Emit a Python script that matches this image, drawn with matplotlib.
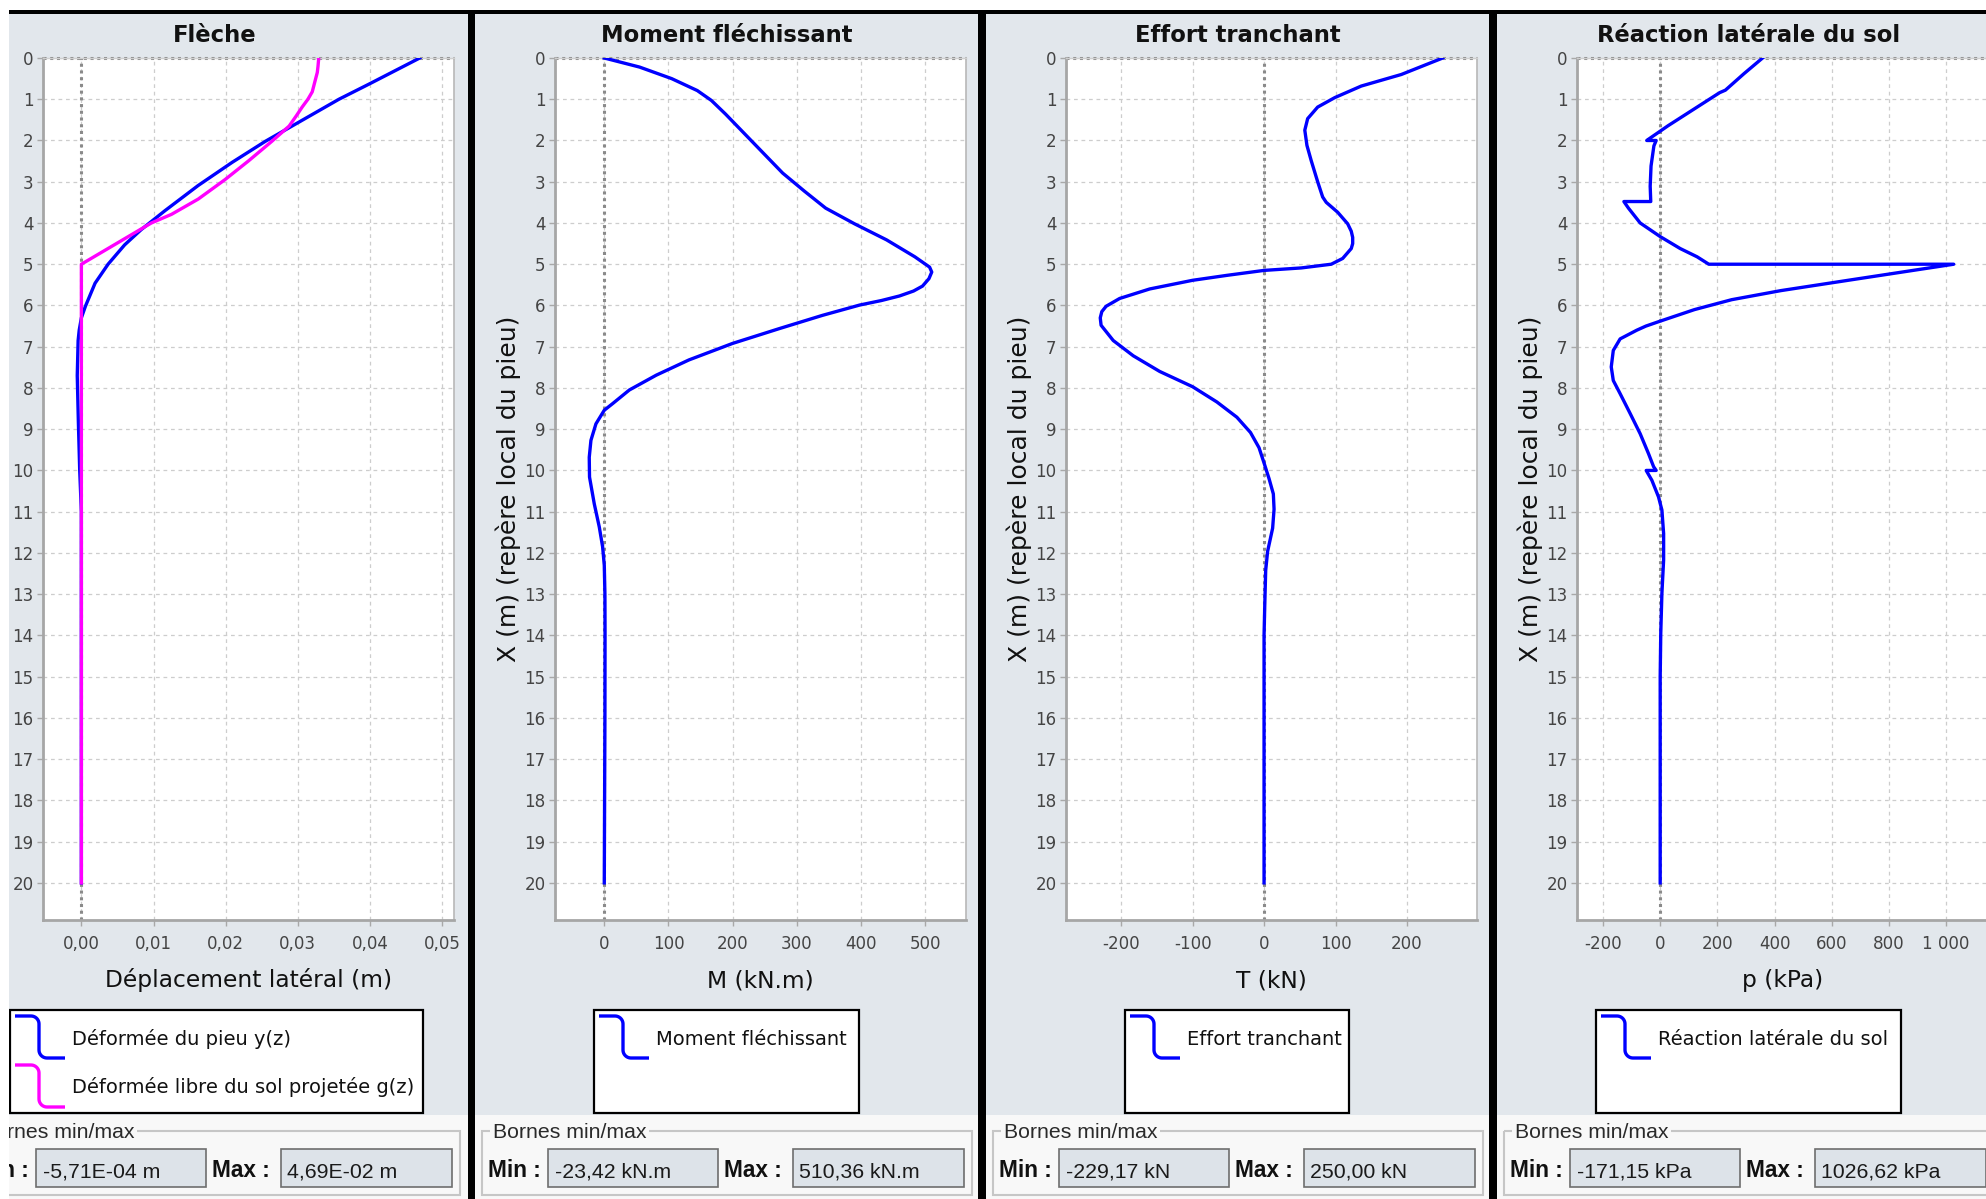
import numpy as np
import matplotlib
matplotlib.use("Agg")
import matplotlib.pyplot as plt
from matplotlib import font_manager
from matplotlib.patches import Rectangle

# ---------------------------------------------------------------------------
# Profiles along the pile (depth z in m, positive downwards)
# ---------------------------------------------------------------------------
pile_z = [0.0, 0.63, 1.0, 1.65, 2.02, 2.53, 3.09, 3.70, 4.16, 4.53, 5.0, 5.46,
          6.02, 6.3, 6.6, 6.85, 7.7, 8.8, 10.0, 11.0, 20.0]
pile_y = [0.0469, 0.0399, 0.0357, 0.0292, 0.0255, 0.0209, 0.0162, 0.0116, 0.0083,
          0.0060, 0.0037, 0.0019, 0.00056, 0.0, -0.0003, -0.00045, -0.000571,
          -0.00042, -0.00023, 0.0, 0.0]

soil_z = [0.0, 0.2, 0.35, 0.55, 0.82, 1.0, 1.19, 1.4, 1.65, 2.02, 2.49, 2.95, 3.42,
          3.79, 4.0, 5.0, 20.0]
soil_g = [0.0329, 0.0328, 0.0327, 0.0324, 0.0320, 0.0314, 0.0306, 0.0298, 0.0288,
          0.0264, 0.0232, 0.0199, 0.0162, 0.0125, 0.0097, 0.0, 0.0]

moment_z = [0.0, 0.22, 0.5, 0.79, 1.03, 1.36, 1.81, 2.26, 2.79, 3.23, 3.64, 4.02,
            4.41, 4.82, 5.07, 5.19, 5.35, 5.53, 5.65, 5.77, 5.88, 5.99, 6.24, 6.56,
            6.92, 7.32, 7.69, 8.05, 8.38, 8.54, 8.87, 9.27, 9.68, 10.16, 10.81,
            11.37, 11.85, 12.3, 13.0, 14.0, 16.0, 18.0, 20.0]
moment_m = [0.0, 55, 105, 145, 167, 189, 217, 245, 278, 312, 345, 390, 440, 484,
            507, 510.36, 506, 496, 482, 460, 432, 398, 340, 273, 200, 132, 81, 39,
            13, 0, -13, -20.8, -23.42, -23, -15.6, -7.8, -2.6, 0, 1, 1.2, 1, 0.5, 0]

shear_z = [0.0, 0.40, 0.68, 0.96, 1.19, 1.47, 1.75, 2.12, 2.49, 3.0, 3.37, 3.5, 3.74,
           4.02, 4.2, 4.35, 4.5, 4.62, 4.86, 5.0, 5.09, 5.15, 5.27, 5.39, 5.6, 5.83,
           6.02, 6.15, 6.3, 6.48, 6.85, 7.22, 7.6, 7.97, 8.34, 8.71, 9.08, 9.45,
           9.82, 10.2, 10.57, 10.94, 11.4, 11.96, 12.42, 13.26, 14.0, 20.0]
shear_t = [250.0, 192, 136, 99, 75, 61, 57, 60, 66, 75, 82, 87, 103, 117, 122, 124,
           124, 122, 110, 94, 52, 0, -52, -100, -160, -202, -221, -227, -229.17,
           -228, -211, -183, -146, -100, -66, -38, -19, -7, 0, 7, 13, 14, 12, 5,
           2.3, 1, 0, 0]

reaction_z = [0.0, 0.38, 0.78, 0.84, 1.32, 1.64, 1.97, 2.0, 2.0, 2.13, 2.62, 3.11,
              3.48, 3.48, 3.64, 4.0, 4.33, 4.62, 4.82, 5.0, 5.0, 5.13, 5.39, 5.64,
              5.86, 6.1, 6.38, 6.5, 6.6, 6.81, 7.09, 7.49, 7.82, 8.14, 8.62, 9.11,
              9.59, 9.91, 10.0, 10.0, 10.24, 10.64, 10.96, 11.53, 12.17, 12.98,
              13.95, 15.0, 20.0]
reaction_p = [358.0, 293, 228, 208, 100, 28, -41, -47, -14, -22, -32, -35, -33,
              -127, -111, -70, 0, 70, 129, 170, 1026.62, 903, 657, 422, 250, 120, 0,
              -50, -82, -140, -164, -171.15, -164, -140, -105, -70, -41, -23, -14,
              -49, -29, -6, 6, 12, 12, 6, 2, 0, 0]

titles = ["Flèche", "Moment fléchissant", "Effort tranchant", "Réaction latérale du sol"]
x_labels = ["Déplacement latéral (m)", "M (kN.m)", "T (kN)", "p (kPa)"]
depth_label = "X (m) (repère local du pieu)"
depth_ticks = list(range(0, 21))

x_ticks = [[0.0, 0.01, 0.02, 0.03, 0.04, 0.05],
           [0, 100, 200, 300, 400, 500],
           [-200, -100, 0, 100, 200],
           [-200, 0, 200, 400, 600, 800, 1000]]
x_tick_labels = [["0,00", "0,01", "0,02", "0,03", "0,04", "0,05"],
                 ["0", "100", "200", "300", "400", "500"],
                 ["-200", "-100", "0", "100", "200"],
                 ["-200", "0", "200", "400", "600", "800", "1 000"]]

legend_entries = [["Déformée du pieu y(z)", "Déformée libre du sol projetée g(z)"],
                  ["Moment fléchissant"],
                  ["Effort tranchant"],
                  ["Réaction latérale du sol"]]
bound_min = ["-5,71E-04 m", "-23,42 kN.m", "-229,17 kN", "-171,15 kPa"]
bound_max = ["4,69E-02 m", "510,36 kN.m", "250,00 kN", "1026,62 kPa"]

# ---------------------------------------------------------------------------
# Styling / layout (pixel units)
# ---------------------------------------------------------------------------
W, H, DPI = 1986, 1199, 100
BLUE, MAGENTA = "#0000ff", "#ff00ff"
PANEL_BG = "#e2e7ec"
STRIP_BG = "#f8f8f8"
FIELD_BG = "#dde3e9"

names = {f.name for f in font_manager.fontManager.ttflist}
if "Liberation Sans Narrow" in names:
    NARROW = dict(family="Liberation Sans Narrow")
else:
    NARROW = dict(family="DejaVu Sans", stretch="condensed")
ARIAL = "Liberation Sans" if "Liberation Sans" in names else "DejaVu Sans"

plot_left = [43, 555, 1066, 1577]
plot_w = 411
plot_top, plot_bottom = 58, 920
panel_left = [-37, 475, 986, 1497]
separators = [(468, 475), (978, 986), (1489, 1497)]
legend_box = [(10, 423), (594, 859), (1125, 1349), (1596, 1901)]

fig = plt.figure(figsize=(W / DPI, H / DPI), dpi=DPI, facecolor="white")

canvas = fig.add_axes([0, 0, 1, 1], zorder=0)
canvas.set_xlim(0, W)
canvas.set_ylim(H, 0)
canvas.axis("off")

canvas.add_patch(Rectangle((0, 14), W, 1115 - 14, fc=PANEL_BG, ec="none"))
canvas.add_patch(Rectangle((0, 1115), W, H - 1115, fc=STRIP_BG, ec="none"))


def step_symbol(x0, y0, color):
    """Legend glyph: horizontal run, bend down, vertical run, bend right."""
    r, xc, y1 = 8.0, x0 + 24.0, y0 + 42.0
    a1 = np.linspace(-np.pi / 2, 0, 12)
    a2 = np.linspace(np.pi, np.pi / 2, 12)
    xs = np.concatenate([[x0], xc - r + r * np.cos(a1), xc + r + r * np.cos(a2), [x0 + 50]])
    ys = np.concatenate([[y0], y0 + r + r * np.sin(a1), y1 - r + r * np.sin(a2), [y1]])
    canvas.plot(xs, ys, color=color, lw=2.4, solid_capstyle="butt", zorder=5)


series = [
    [(pile_y, pile_z, BLUE), (soil_g, soil_z, MAGENTA)],
    [(moment_m, moment_z, BLUE)],
    [(shear_t, shear_z, BLUE)],
    [(reaction_p, reaction_z, BLUE)],
]
legend_colors = [[BLUE, MAGENTA], [BLUE], [BLUE], [BLUE]]

for i in range(4):
    P = plot_left[i]
    G = panel_left[i]
    C = P + 171.5

    # title
    canvas.text(C, 42, titles[i], ha="center", va="baseline", fontsize=16.3,
                fontweight="bold", color="#111111", family="DejaVu Sans")

    # plot area
    rect = [P / W, 1 - plot_bottom / H, plot_w / W, (plot_bottom - plot_top) / H]
    ax = fig.add_axes(rect, zorder=2)
    ax.set_facecolor("white")

    vals = np.concatenate([np.asarray(s[0], float) for s in series[i]])
    lo, hi = vals.min(), vals.max()
    span = hi - lo
    ax.set_xlim(lo - 0.1 * span, hi + 0.1 * span)
    ax.set_ylim(20.9, 0)

    ax.set_xticks(x_ticks[i])
    ax.set_xticklabels(x_tick_labels[i], fontsize=13.3, color="#444444", **NARROW)
    ax.set_yticks(depth_ticks)
    ax.set_yticklabels([str(t) for t in depth_ticks], fontsize=13.3,
                       color="#444444", **NARROW)
    ax.tick_params(axis="x", direction="out", length=4, width=1, color="#a8a8a8", pad=6.5)
    ax.tick_params(axis="y", direction="out", length=4, width=1, color="#a8a8a8", pad=2.9)

    ax.grid(True, color="#cdcdcd", linestyle=(0, (3, 3)), linewidth=0.9)
    ax.set_axisbelow(True)
    for side, col, lw in [("left", "#a6a6a6", 2.0), ("bottom", "#a6a6a6", 2.0),
                          ("right", "#b8b8b8", 1.2), ("top", "#cfcfcf", 1.0)]:
        ax.spines[side].set_color(col)
        ax.spines[side].set_linewidth(lw)

    ax.axvline(0, color="#8a8a8a", lw=2.2, linestyle=(0, (1, 1.2)), zorder=1.5)
    ax.axhline(0, color="#8a8a8a", lw=2.2, linestyle=(0, (1, 1.2)), zorder=1.5,
               clip_on=False)

    for xv, zv, col in series[i]:
        ax.plot(xv, zv, color=col, lw=2.4, zorder=3, solid_joinstyle="round")

    # axis labels
    canvas.text(P + plot_w / 2, 987, x_labels[i], ha="center", va="baseline",
                fontsize=16.8, color="#111111", family="DejaVu Sans")
    if i > 0:
        canvas.text(P - 47, (plot_top + plot_bottom) / 2, depth_label, rotation=90,
                    ha="center", va="center", fontsize=18, color="#111111",
                    family="DejaVu Sans")

    # legend
    lx0, lx1 = legend_box[i]
    canvas.add_patch(Rectangle((lx0, 1010), lx1 - lx0, 103, fc="white", ec="black",
                               lw=1.6, zorder=3))
    for k, (txt, col) in enumerate(zip(legend_entries[i], legend_colors[i])):
        top = 1016 + 49 * k
        step_symbol(lx0 + 5, top, col)
        canvas.text(lx0 + 62, 1045 + 48 * k, txt, ha="left", va="baseline",
                    fontsize=14, color="#111111", family="DejaVu Sans", zorder=5)

    # min/max bounds group
    canvas.add_patch(Rectangle((G + 7, 1131), 490, 64, fill=False, ec="#c6c6c6", lw=1.5))
    canvas.text(G + 18, 1138, "Bornes min/max", ha="left", va="baseline",
                fontsize=15.3, color="#2a2a2a", family=ARIAL,
                bbox=dict(boxstyle="square,pad=0.12", fc=STRIP_BG, ec="none"))
    canvas.text(G + 13, 1177, "Min :", ha="left", va="baseline", fontsize=16.3,
                fontweight="bold", color="#111111", family=ARIAL)
    canvas.add_patch(Rectangle((G + 73, 1149), 170, 38, fc=FIELD_BG, ec="#6e6e6e", lw=1.2))
    canvas.text(G + 80, 1177, bound_min[i], ha="left", va="baseline", fontsize=15.3,
                color="#1a1a1a", family=ARIAL)
    canvas.text(G + 249, 1177, "Max :", ha="left", va="baseline", fontsize=16.3,
                fontweight="bold", color="#111111", family=ARIAL)
    canvas.add_patch(Rectangle((G + 318, 1149), 171, 38, fc=FIELD_BG, ec="#6e6e6e", lw=1.2))
    canvas.text(G + 324, 1177, bound_max[i], ha="left", va="baseline", fontsize=15.3,
                color="#1a1a1a", family=ARIAL)

# frame: separators, top rule, left margin
top = fig.add_axes([0, 0, 1, 1], zorder=10)
top.set_xlim(0, W)
top.set_ylim(H, 0)
top.axis("off")
top.patch.set_visible(False)
for a, b in separators:
    top.add_patch(Rectangle((a, 10), b - a, H - 10, fc="black", ec="none"))
top.add_patch(Rectangle((0, 0), W, 10, fc="white", ec="none"))
top.add_patch(Rectangle((9, 10), W, 4, fc="black", ec="none"))
top.add_patch(Rectangle((0, 0), 9, H, fc="white", ec="none"))

fig.savefig("out.png", dpi=DPI, facecolor="white")
